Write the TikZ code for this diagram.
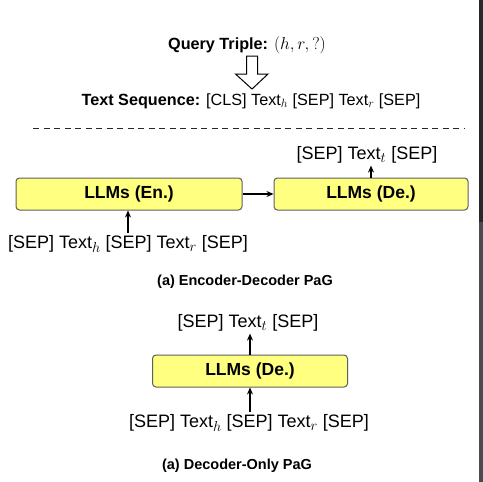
\documentclass[tikz,border=0pt]{standalone}
\usepackage{fontspec}
\setmainfont{Liberation Sans}
\DeclareMathSizes{18}{18}{13.5}{10}
\DeclareMathSizes{16.2}{16.2}{12.5}{9}
\usetikzlibrary{arrows.meta}
\definecolor{boxyellow}{RGB}{255,255,128}
\definecolor{boxedge}{RGB}{95,95,95}
\definecolor{stripdark}{RGB}{40,40,42}
\definecolor{striplight}{RGB}{74,74,80}
\begin{document}
\begin{tikzpicture}[x=1pt,y=-1pt,
  llm/.style={draw=boxedge,fill=boxyellow,line width=1pt,rounded corners=3.5pt,
    minimum height=32pt,inner sep=0pt,font=\fontsize{17.5}{20}\selectfont\bfseries},
  seqtext/.style={inner sep=2pt,font=\fontsize{18}{21}\selectfont},
  headtext/.style={inner sep=2pt,font=\fontsize{16.2}{19}\selectfont},
  captext/.style={inner sep=2pt,font=\fontsize{14.5}{17}\selectfont\bfseries},
  arr/.style={-{Stealth[length=7pt,width=6pt]},line width=1.1pt,black},
  sep/.style={dashed,dash pattern=on 6pt off 4.5pt,line width=1pt,black!85}]
\useasboundingbox (0,0) rectangle (483,482);
\fill[white] (0,0) rectangle (483,482);
\fill[stripdark] (479,0) rectangle (483,222);
\fill[striplight] (479,222) rectangle (483,482);
% header
\node[headtext] (query) at (247,45) {\textbf{Query Triple:} $(h,r,?)$};
\node[headtext] (textseq) at (251,101) {\textbf{Text Sequence:} [CLS] Text$_h$ [SEP] Text$_r$ [SEP]};
\coordinate (ha) at (252,56);
\draw[line width=1pt,black,line join=miter]
  ([xshift=-5.5pt]ha) -- ++(0,18) -- ++(-11,0) -- (252,89) -- (268,74) -- ++(-10.5,0) -- ([xshift=5.5pt]ha) -- cycle;
\coordinate (sepL) at (33,128);
\coordinate (sepR) at (465,128);
\draw[sep] (sepL) -- (sepR);
% encoder-decoder
\node[llm,minimum width=226pt] (enc) at (129,194) {LLMs (En.)};
\node[llm,minimum width=194pt] (dec) at (371,194) {LLMs (De.)};
\node[seqtext] (out1) at (367,155) {[SEP] Text$_t$ [SEP]};
\node[seqtext] (in1) at (128,244) {[SEP] Text$_h$ [SEP] Text$_r$ [SEP]};
\node[captext] (cap1) at (245,282) {(a) Encoder-Decoder PaG};
\draw[arr] (enc.east) -- (dec.west);
\draw[arr] (in1.north) -- (in1.north |- enc.south);
\draw[arr] (dec.north) -- (dec.north |- out1.south);
% decoder only
\node[llm,minimum width=195pt] (deconly) at (250,371) {LLMs (De.)};
\node[seqtext] (out2) at (248,323) {[SEP] Text$_t$ [SEP]};
\node[seqtext] (in2) at (249,423) {[SEP] Text$_h$ [SEP] Text$_r$ [SEP]};
\node[captext] (cap2) at (237,466) {(a) Decoder-Only PaG};
\draw[arr] (in2.north -| deconly.south) -- (deconly.south);
\draw[arr] (deconly.north) -- (deconly.north |- out2.south);
\end{tikzpicture}
\end{document}
